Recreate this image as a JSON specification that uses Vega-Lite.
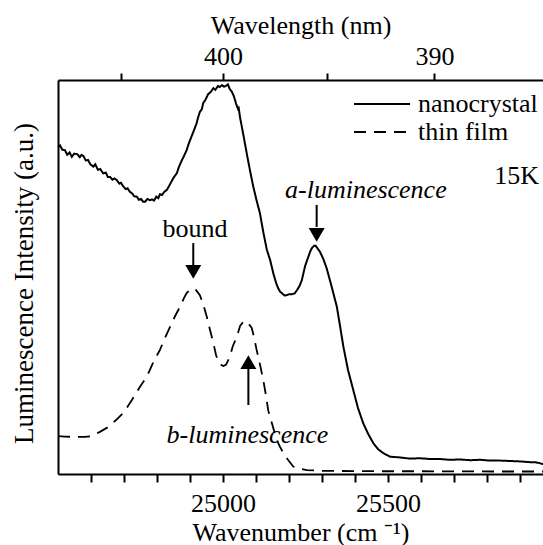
{
  "$schema": "https://vega.github.io/schema/vega-lite/v6.json",
  "width": 485,
  "height": 394,
  "autosize": "none",
  "padding": {"left": 58, "top": 80, "right": 0, "bottom": 71},
  "background": "white",
  "config": {
    "view": {"stroke": null},
    "font": "Liberation Serif",
    "axis": {
      "domainColor": "black", "domainWidth": 2, "tickColor": "black", "tickWidth": 2,
      "labelColor": "black", "titleColor": "black", "labelFont": "Liberation Serif", "titleFont": "Liberation Serif",
      "labelFontSize": 26, "titleFontSize": 26, "titleFontWeight": "normal", "grid": false
    },
    "legend": {
      "orient": "none", "legendX": 309, "legendY": 9,
      "symbolType": "M-2,0H2", "symbolSize": 784, "symbolStrokeWidth": 2, "symbolStrokeColor": "black", "symbolFillColor": "transparent",
      "labelFont": "Liberation Serif", "labelFontSize": 26, "labelColor": "black", "labelOffset": 21, "rowPadding": 0
    }
  },
  "datasets": {
    "nano": [
      [24500,83.0],[24506,83.4],[24513,82.3],[24521,82.2],[24528,81.0],[24535,81.6],[24542,80.5],[24549,81.3],[24558,81.2],[24566,80.4],[24571,81.0],[24577,80.7],[24584,79.6],[24591,79.7],[24598,78.6],[24607,78.0],[24613,78.6],[24621,77.2],[24628,77.4],[24637,76.3],[24645,76.5],[24651,75.4],[24658,75.4],[24665,74.7],[24671,75.0],[24678,74.6],[24686,73.7],[24691,73.9],[24697,73.1],[24705,72.3],[24711,72.5],[24718,71.6],[24725,71.2],[24731,70.5],[24739,70.4],[24745,69.6],[24752,69.8],[24758,69.1],[24764,69.1],[24771,69.8],[24779,69.5],[24785,69.7],[24791,69.4],[24798,70.4],[24804,70.0],[24809,71.0],[24815,70.8],[24822,71.6],[24830,72.1],[24836,73.0],[24843,74.1],[24851,75.3],[24860,76.3],[24866,77.8],[24873,79.2],[24880,80.4],[24890,82.2],[24896,83.8],[24903,85.3],[24911,87.0],[24920,89.0],[24925,90.6],[24930,91.9],[24936,92.6],[24940,94.1],[24947,95.0],[24955,96.4],[24962,96.9],[24971,97.9],[24977,97.5],[24985,98.5],[24990,98.2],[24997,98.7],[25003,98.3],[25009,98.5],[25015,98.9],[25020,97.8],[25027,97.0],[25033,95.9],[25040,93.9],[25045,92.8],[25047,93.3],[25052,90.4],[25062,86.0],[25072,81.4],[25082,77.0],[25092,72.9],[25102,69.4],[25112,66.2],[25122,61.5],[25133,56.9],[25143,54.3],[25153,50.8],[25161,48.5],[25167,47.2],[25173,46.3],[25180,45.8],[25187,45.3],[25193,45.4],[25200,45.6],[25209,45.6],[25218,45.9],[25227,47.0],[25233,47.9],[25239,49.2],[25249,52.8],[25259,55.2],[25265,56.6],[25270,57.4],[25276,57.9],[25281,57.9],[25288,57.1],[25294,56.4],[25304,54.6],[25314,52.3],[25328,48.0],[25345,42.5],[25355,37.5],[25365,32.3],[25379,26.4],[25395,21.3],[25409,16.8],[25425,12.9],[25440,10.2],[25456,7.8],[25470,6.3],[25486,5.3],[25506,4.4],[25537,4.2],[25567,3.9],[25597,4.0],[25628,3.8],[25658,3.8],[25688,3.6],[25718,3.7],[25749,3.5],[25779,3.6],[25810,3.4],[25840,3.4],[25870,3.3],[25900,3.2],[25930,3.0],[25946,3.0],[25958,2.8],[25970,2.5]
    ],
    "film": [
      [24500,9.6],[24521,9.5],[24552,9.4],[24582,9.4],[24603,9.6],[24627,10.7],[24652,11.9],[24676,13.7],[24700,15.7],[24724,18.8],[24749,22.2],[24769,24.7],[24788,28.2],[24809,31.5],[24824,34.5],[24840,37.4],[24855,40.1],[24870,42.5],[24882,44.7],[24890,45.9],[24900,46.8],[24910,47.1],[24918,46.7],[24930,45.4],[24940,43.1],[24951,39.9],[24961,36.5],[24971,33.2],[24979,30.2],[24986,28.5],[24994,27.7],[25001,27.4],[25009,27.7],[25021,29.8],[25030,32.5],[25042,34.8],[25052,37.6],[25062,38.7],[25070,38.8],[25076,38.3],[25087,37.1],[25094,34.8],[25102,31.5],[25112,27.9],[25122,23.9],[25130,20.1],[25137,16.2],[25149,12.7],[25163,8.6],[25173,6.9],[25183,5.3],[25197,3.6],[25213,1.9],[25234,1.3],[25254,1.0],[25279,0.9],[25303,0.8],[25355,0.76],[25476,0.7],[25597,0.7],[25718,0.66],[25840,0.63],[25970,0.63]
    ]
  },
  "layer": [
    {
      "data": {"name": "nano"},
      "transform": [
        {"calculate": "datum[0]", "as": "wavenumber"},
        {"calculate": "datum[1]", "as": "intensity"},
        {"calculate": "'nanocrystal'", "as": "sample"}
      ],
      "mark": {"type": "line", "color": "black", "strokeWidth": 2},
      "encoding": {
        "x": {"field": "wavenumber", "type": "quantitative", "scale": {"domain": [24500, 25970], "nice": false, "zero": false},
          "axis": {"orient": "bottom", "title": "Wavenumber (cm ⁻¹)", "values": [24600,24700,24800,24900,25000,25100,25200,25300,25400,25500,25600,25700,25800,25900],
            "format": "d", "labelExpr": "(datum.value == 25000 || datum.value == 25500) ? datum.label : ''", "tickSize": 8, "labelPadding": 8, "titlePadding": 3, "labelFlush": false, "labelOverlap": false}},
        "y": {"field": "intensity", "type": "quantitative", "scale": {"domain": [0, 100], "nice": false},
          "axis": {"orient": "left", "title": "Luminescence Intensity (a.u.)", "domain": true, "ticks": false, "labels": false, "titlePadding": 20, "titleFontSize": 27, "titleY": 203}},
        "strokeDash": {"field": "sample", "type": "nominal", "scale": {"domain": ["nanocrystal", "thin film"], "range": [[1, 0], [12, 8]]}, "legend": {"title": null}}
      }
    },
    {
      "data": {"name": "film"},
      "transform": [
        {"calculate": "datum[0]", "as": "wavenumber"},
        {"calculate": "datum[1]", "as": "intensity"},
        {"calculate": "'thin film'", "as": "sample"}
      ],
      "mark": {"type": "line", "color": "black", "strokeWidth": 1.8},
      "encoding": {
        "x": {"field": "wavenumber", "type": "quantitative", "scale": {"domain": [24500, 25970], "nice": false, "zero": false}, "axis": null},
        "y": {"field": "intensity", "type": "quantitative", "scale": {"domain": [0, 100], "nice": false}, "axis": null},
        "strokeDash": {"field": "sample", "type": "nominal", "scale": {"domain": ["nanocrystal", "thin film"], "range": [[1, 0], [12, 8]]}, "legend": {"title": null}}
      }
    },
    {
      "data": {"values": [
        {"x": 24910, "y": 58.6, "y2": 52.5},
        {"x": 25284, "y": 68.3, "y2": 62.7},
        {"x": 25077, "y": 17.5, "y2": 27.2}
      ]},
      "mark": {"type": "rule", "color": "black", "strokeWidth": 2},
      "encoding": {
        "x": {"field": "x", "type": "quantitative", "scale": {"domain": [24500, 25970], "nice": false, "zero": false},
          "axis": {"orient": "top", "title": "Wavelength (nm)", "values": [24691.358, 25000, 25316.456, 25641.026],
            "labelExpr": "abs(1e7/datum.value - 400) < 0.5 ? '400' : (abs(1e7/datum.value - 390) < 0.5 ? '390' : '')",
            "tickSize": 7, "labelPadding": 4, "titlePadding": 5, "labelFlush": false, "labelOverlap": false}},
        "y": {"field": "y", "type": "quantitative", "scale": {"domain": [0, 100], "nice": false}, "axis": null},
        "y2": {"field": "y2"}
      }
    },
    {
      "data": {"values": [
        {"x": 24910, "y": 51.3, "shape": "triangle-down"},
        {"x": 25284, "y": 60.7, "shape": "triangle-down"},
        {"x": 25077, "y": 28.4, "shape": "triangle-up"}
      ]},
      "mark": {"type": "point", "filled": true, "color": "black", "size": 256, "opacity": 1},
      "encoding": {
        "x": {"field": "x", "type": "quantitative", "scale": {"domain": [24500, 25970], "nice": false, "zero": false}, "axis": null},
        "y": {"field": "y", "type": "quantitative", "scale": {"domain": [0, 100], "nice": false}, "axis": null},
        "shape": {"field": "shape", "type": "nominal", "scale": null}
      }
    },
    {
      "data": {"values": [{"x": 24915, "y": 60.2, "label": "bound"}]},
      "mark": {"type": "text", "align": "center", "baseline": "alphabetic", "fontSize": 26, "font": "Liberation Serif", "color": "black"},
      "encoding": {
        "x": {"field": "x", "type": "quantitative", "scale": {"domain": [24500, 25970], "nice": false, "zero": false}, "axis": null},
        "y": {"field": "y", "type": "quantitative", "scale": {"domain": [0, 100], "nice": false}, "axis": null},
        "text": {"field": "label"}
      }
    },
    {
      "data": {"values": [{"x": 25958, "y": 73.7, "label": "15K"}]},
      "mark": {"type": "text", "align": "right", "baseline": "alphabetic", "fontSize": 26, "font": "Liberation Serif", "color": "black"},
      "encoding": {
        "x": {"field": "x", "type": "quantitative", "scale": {"domain": [24500, 25970], "nice": false, "zero": false}, "axis": null},
        "y": {"field": "y", "type": "quantitative", "scale": {"domain": [0, 100], "nice": false}, "axis": null},
        "text": {"field": "label"}
      }
    },
    {
      "data": {"values": [
        {"x": 25188, "y": 70.0, "label": "a-luminescence"},
        {"x": 24829, "y": 7.8, "label": "b-luminescence"}
      ]},
      "mark": {"type": "text", "align": "left", "baseline": "alphabetic", "fontSize": 26, "fontStyle": "italic", "font": "Liberation Serif", "color": "black"},
      "encoding": {
        "x": {"field": "x", "type": "quantitative", "scale": {"domain": [24500, 25970], "nice": false, "zero": false}, "axis": null},
        "y": {"field": "y", "type": "quantitative", "scale": {"domain": [0, 100], "nice": false}, "axis": null},
        "text": {"field": "label"}
      }
    }
  ],
  "resolve": {"axis": {"x": "independent", "y": "independent"}}
}
